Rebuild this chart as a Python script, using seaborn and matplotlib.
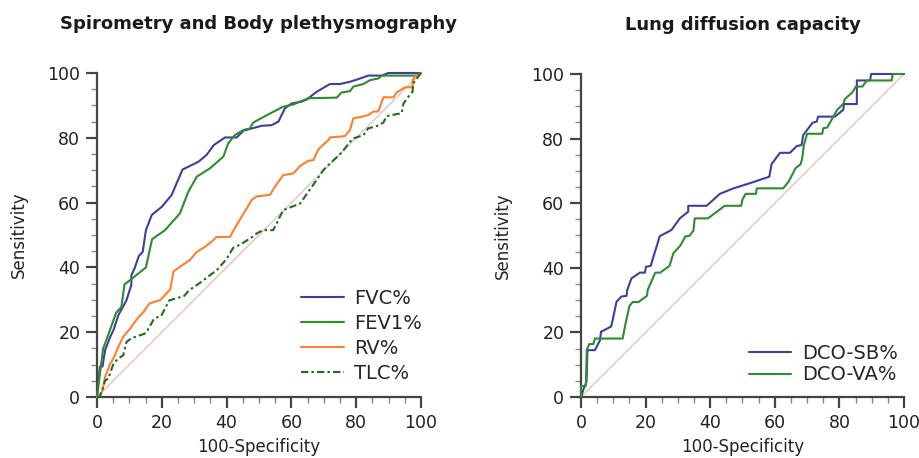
import matplotlib
matplotlib.use("Agg")
import matplotlib.pyplot as plt
import seaborn as sns
import pandas as pd
from matplotlib.ticker import MultipleLocator

# ---------------- data ----------------
fvc_x = [0,0.9,1.7,2.5,4.1,5.1,6.6,8.1,9.1,10.6,10.6,11.6,12.9,14.1,15.1,16.9,20,23,26.4,31.3,
         33.8,36.1,39.5,43.1,45.2,50.8,53.9,56,58,60.1,63.2,64.7,67.8,71.9,75,78.1,81.2,83.7,87.9,89.9,100]
fvc_y = [0,9.4,9.4,14.5,18.6,20.7,25.3,28,29.9,34.6,37.6,39.7,43.5,44.8,51.5,56.2,58.7,62.3,70.2,72.6,
         74.7,77.8,80.1,80.1,82.2,83.7,83.9,85,89.1,90.6,91.2,91.8,94.2,96.6,96.6,97.3,98.3,99.2,99.2,100,100]

fev1_x = [0,1.9,2.9,5.9,7.5,8.5,10,15.1,17,21,25.6,28.2,30.8,34.9,39,40.5,42.6,45.2,47.2,48.2,
          53.4,57.5,60.6,65.2,74,75.5,78.1,79.1,82.2,84.3,86.8,87.9,98.7,100]
fev1_y = [0,15,17.6,26,27.7,34.8,35.9,40,48.7,51.5,56.7,63.4,68,70.6,74.2,78.3,80.9,82.4,82.9,84.7,
          87.5,89.6,90.3,92.2,92.4,94,94.4,95.8,96.6,97.8,98.3,99.2,99.2,100]

rv_x = [0,0.8,1.7,2.5,4.1,5.1,6.6,8.1,10.2,11.7,12.8,14.4,16.2,19.5,22.6,23.6,25.6,28.7,30.8,33.3,
        35.9,36.9,41,43.1,46.2,47.7,49.3,53.4,54.9,57.5,60.6,62.7,65.2,66.8,68.3,71.4,71.9,76.5,78.1,79.1,
        81.7,83.7,85.3,86.8,88.4,91.5,92.5,95.1,97.4,97.4,98.2,100]
rv_y = [0,0,2.1,6.2,10.3,11.9,15.5,18.6,21.1,23.2,24.6,26.3,28.9,29.9,33.2,38.7,40.2,42.3,44.8,46.3,
        48.4,49.4,49.4,53.1,58.2,60.8,61.9,62.4,64.9,68.5,69,71.3,72.9,73.1,76.4,79.3,80.1,80.5,82.4,86,
        86.5,87,88.1,88.1,92.5,92.5,94,95.6,95.6,97.9,98.9,100]

tlc_x = [0,0.8,1.9,2.5,3.5,5.1,6.6,8.1,9.1,10.6,15.1,17.7,19.8,22.3,26.9,28.5,31.6,33.6,37.2,40,
         42,44.5,48.1,49.3,51.3,54.4,57.5,60.1,62.7,65.2,67.8,69.9,72.5,75.5,78.1,79.1,82.2,83.7,86.3,88.4,
         89.4,94,94.6,96.1,97.4,97.6,98.7,100]
tlc_y = [0,0,3.1,5.1,5.7,10.3,11.9,12.9,17,18.1,19.7,24.3,25,29.8,31.2,33,35.1,36.6,39.4,42.6,
         46,47.2,49.5,50.5,51.5,51.5,57.7,58.7,59.7,63.3,67,70.1,72.6,75.4,78.8,79.8,80.8,82.9,83.6,84.7,
         86.7,87.6,90.6,92.7,94.2,96.8,98.3,100]

dcosb_x = [0,0.7,1.7,2,4.3,5.9,6.2,9.3,9.8,11,12.5,14.1,14.3,15.6,18.2,19.8,20.1,21.6,22.2,24.4,
           28,30.6,33.2,33.2,38.9,43,47.2,52.3,58.3,59,61.6,64.7,66.8,68.3,68.8,70.4,71.7,73,73.4,78.6,
           81.2,81.4,85.4,85.4,89.5,89.8,100]
dcosb_y = [0,2.2,4.7,14.5,14.5,17.6,20.2,21.8,23.8,29.5,31.1,31.3,33.1,36.7,38.5,38.5,40.3,40.6,42.7,49.8,
           51.7,55.3,57.4,59.2,59.2,62.9,64.6,66.2,68.2,72.1,75.6,75.6,77.7,78,81.1,83.2,84.9,85.3,86.8,86.8,
           88.9,90.7,90.7,98,98,100,100]

dcova_x = [0,0,1.5,1.8,2.6,3.8,4.3,12.9,13.6,15,16,17.8,20.4,20.7,23,24.5,27.4,28.6,30.7,32.3,
           33.6,34.8,35.2,39.3,44.5,49.6,50,51,54.2,54.4,62.6,64.3,66.4,68,68.5,69,70,74.7,75,76.2,
           79.3,81.4,81.6,84,85.1,87.1,88.5,96.2,96.5,100]
dcova_y = [0,3.4,3.4,14.7,16.4,16.4,18.1,18.1,21.8,28.2,29.4,29.4,31.3,33.3,38.5,38.5,40.6,44.5,46.8,49.7,
           49.9,51.5,55.3,55.3,59.2,59.2,61.2,62.9,62.9,64.6,64.6,66.7,70.8,72.1,74,78,81.5,81.5,83.2,83.4,
           88.9,91,92.2,94.3,96.1,96.1,98,98,100,100]

left_series = [("FVC%", fvc_x, fvc_y, "#3c3f9e", "-"),
               ("FEV1%", fev1_x, fev1_y, "#2e8b2e", "-"),
               ("RV%", rv_x, rv_y, "#ff7f2a", "-"),
               ("TLC%", tlc_x, tlc_y, "#1f6b1f", (0, (3.5, 1.5, 1.2, 1.5)))]
right_series = [("DCO-SB%", dcosb_x, dcosb_y, "#3c3f9e", "-"),
                ("DCO-VA%", dcova_x, dcova_y, "#2e8b2e", "-")]

titles = ["Spirometry and Body plethysmography", "Lung diffusion capacity"]
ticks = [0, 20, 40, 60, 80, 100]

# ---------------- figure ----------------
sns.set_style("white")
plt.rcParams["font.family"] = ["DejaVu Sans"]

fig = plt.figure(figsize=(9.2, 4.58), dpi=100)
ax1 = fig.add_axes([97/920, 1-397/458, (421-97)/920, (397-73)/458])
ax2 = fig.add_axes([581/920, 1-397/458, (904-581)/920, (397-74)/458])

configs = [(ax1, left_series, titles[0], (0.605, 0.02), 0.3),
           (ax2, right_series, titles[1], (0.495, 0.015), 0.14)]

for ax, series, title, legloc, lspace in configs:
    ax.plot([0, 100], [0, 100], color="#e2c2c2", lw=1.0, zorder=1)
    for name, xs, ys, col, ls in series:
        df = pd.DataFrame({"x": xs, "y": ys})
        sns.lineplot(data=df, x="x", y="y", ax=ax, sort=False, estimator=None,
                     color=col, lw=1.5, linestyle=ls, label=name, zorder=3, clip_on=False)
    ax.set_xlim(0, 100)
    ax.set_ylim(0, 100)
    ax.set_xticks(ticks)
    ax.set_yticks(ticks)
    ax.xaxis.set_minor_locator(MultipleLocator(5))
    ax.yaxis.set_minor_locator(MultipleLocator(5))
    for s in ["top", "right"]:
        ax.spines[s].set_visible(False)
    for s in ["left", "bottom"]:
        ax.spines[s].set_color("#444444")
        ax.spines[s].set_linewidth(1.6)
    ax.tick_params(which="major", direction="out", length=8, width=1.6, color="#444444",
                   labelsize=12.5, labelcolor="#222222", pad=4, bottom=True, left=True)
    ax.tick_params(which="minor", direction="out", length=4, width=1.0, color="#888888",
                   bottom=True, left=True)
    ax.set_xlabel("100-Specificity", fontsize=12, color="#222222", labelpad=4.5)
    ax.set_ylabel("Sensitivity", fontsize=12, color="#222222", labelpad=14)
    ax.set_title(title, fontsize=13, fontweight="bold", color="#1a1a1a", pad=32)
    ax.legend(loc="lower left", bbox_to_anchor=legloc, frameon=False, fontsize=14,
              handlelength=2.2, handletextpad=0.55, labelspacing=lspace, borderaxespad=0)

fig.savefig("out.png", dpi=100)
